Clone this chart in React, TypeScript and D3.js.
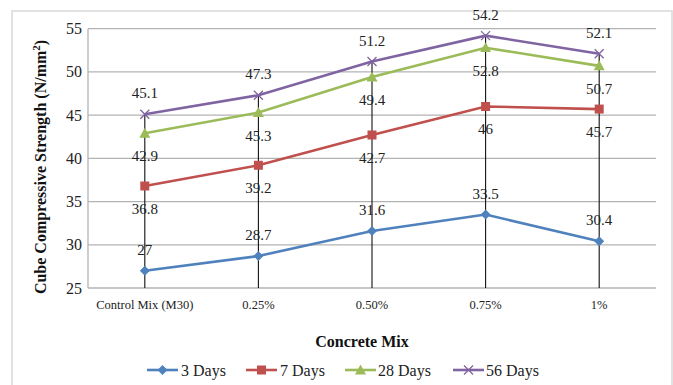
import React from "react";
import * as d3 from "d3";

const categories = ["Control Mix (M30)", "0.25%", "0.50%", "0.75%", "1%"];
const days3 = [27, 28.7, 31.6, 33.5, 30.4];
const days7 = [36.8, 39.2, 42.7, 46, 45.7];
const days28 = [42.9, 45.3, 49.4, 52.8, 50.7];
const days56 = [45.1, 47.3, 51.2, 54.2, 52.1];
const yTicks = [25, 30, 35, 40, 45, 50, 55];

const series = [
  { name: "3 Days", values: days3, color: "#4F81BD", marker: "diamond", labelPos: "above" },
  { name: "7 Days", values: days7, color: "#C0504D", marker: "square", labelPos: "below" },
  { name: "28 Days", values: days28, color: "#9BBB59", marker: "triangle", labelPos: "below" },
  { name: "56 Days", values: days56, color: "#8064A2", marker: "x", labelPos: "above" },
];

const W = 673, H = 385;
const plot = { left: 88, right: 656, top: 28.7, bottom: 288 };
const serif = "Liberation Serif, DejaVu Serif, serif";

function Marker({ type, x, y, color }: { type: string; x: number; y: number; color: string }) {
  if (type === "diamond") {
    const s = 5;
    return <path d={`M${x},${y - s}L${x + s},${y}L${x},${y + s}L${x - s},${y}Z`} fill={color} />;
  }
  if (type === "square") {
    const s = 4.5;
    return <rect x={x - s} y={y - s} width={2 * s} height={2 * s} fill={color} />;
  }
  if (type === "triangle") {
    const s = 5.5;
    return <path d={`M${x},${y - s}L${x + s},${y + s * 0.8}L${x - s},${y + s * 0.8}Z`} fill={color} />;
  }
  const s = 4.5;
  return (
    <path d={`M${x - s},${y - s}L${x + s},${y + s}M${x + s},${y - s}L${x - s},${y + s}`} stroke={color} strokeWidth={1.3} fill="none" />
  );
}

export default function App() {
  const x = d3.scaleBand<string>().domain(categories).range([plot.left, plot.right]);
  const cx = (c: string) => (x(c) as number) + x.bandwidth() / 2;
  const y = d3.scaleLinear().domain([25, 55]).range([plot.bottom, plot.top]);
  const line = d3
    .line<number>()
    .x((_, i) => cx(categories[i]))
    .y((v) => y(v));

  const legendItems = [
    { lx: 147, tx: 181 },
    { lx: 246, tx: 280 },
    { lx: 345, tx: 378 },
    { lx: 453, tx: 486 },
  ];

  return (
    <svg width={W} height={H} style={{ position: "absolute", left: 0, top: 0, background: "#fff", fontFamily: serif }}>
      <rect x={12} y={11} width={660} height={390} fill="#fff" stroke="#D9D9D9" strokeWidth={1.5} />
      {yTicks.map((t) => (
        <line key={t} x1={plot.left} x2={plot.right} y1={y(t)} y2={y(t)} stroke="#B3B3B3" strokeWidth={1.3} />
      ))}
      <line x1={plot.left} x2={plot.left} y1={plot.top} y2={plot.bottom} stroke="#B3B3B3" strokeWidth={1.3} />
      {yTicks.map((t) => (
        <text key={t} x={82} y={y(t) + 5.5} textAnchor="end" style={{ fontFamily: serif }} fontSize={16} fill="#222">
          {t}
        </text>
      ))}
      {categories.map((c) => (
        <text key={c} x={cx(c)} y={309} textAnchor="middle" style={{ fontFamily: serif }} fontSize={12.5} fill="#222">
          {c}
        </text>
      ))}
      {categories.map((c, i) => {
        const top = Math.max(...series.map((s) => s.values[i]));
        return <line key={c} x1={cx(c)} x2={cx(c)} y1={y(top)} y2={plot.bottom} stroke="#111" strokeWidth={1.1} />;
      })}
      {series.map((s) => (
        <g key={s.name}>
          <path d={line(s.values) || ""} fill="none" stroke={s.color} strokeWidth={2.6} />
          {s.values.map((v, i) => (
            <Marker key={i} type={s.marker} x={cx(categories[i])} y={y(v)} color={s.color} />
          ))}
        </g>
      ))}
      {series.map((s) =>
        s.values.map((v, i) => (
          <text
            key={s.name + i}
            x={cx(categories[i])}
            y={s.labelPos === "above" ? y(v) - 16 : y(v) + 28}
            textAnchor="middle"
            style={{ fontFamily: serif }}
            fontSize={15}
            fill="#222"
          >
            {v}
          </text>
        ))
      )}
      <text x={362} y={347} textAnchor="middle" style={{ fontFamily: serif }} fontSize={16} fontWeight="bold" fill="#111">
        Concrete Mix
      </text>
      <text
        transform={`translate(46,167) rotate(-90)`}
        textAnchor="middle"
        style={{ fontFamily: serif }}
        fontSize={16}
        fontWeight="bold"
        fill="#111"
      >
        Cube Compressive Strength (N/mm<tspan dy={-6} fontSize={11}>2</tspan><tspan dy={6}>)</tspan>
      </text>
      {series.map((s, i) => {
        const it = legendItems[i];
        return (
          <g key={s.name}>
            <line x1={it.lx} x2={it.lx + 31} y1={370} y2={370} stroke={s.color} strokeWidth={2.6} />
            <Marker type={s.marker} x={it.lx + 15.5} y={370} color={s.color} />
            <text x={it.tx} y={375.5} style={{ fontFamily: serif }} fontSize={16} fill="#222">
              {s.name}
            </text>
          </g>
        );
      })}
    </svg>
  );
}
